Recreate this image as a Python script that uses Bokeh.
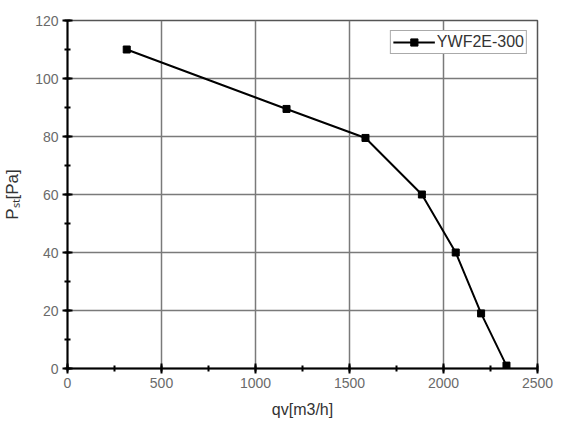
from bokeh.plotting import figure
from bokeh.models import Range1d, SingleIntervalTicker
from bokeh.embed import file_html
from bokeh.resources import INLINE

# fan curve
flow = [315, 1165, 1585, 1885, 2065, 2200, 2335]
pressure = [110, 89.5, 79.5, 60, 40, 19, 1]
series_name = "YWF2E-300"
x_title = "qv[m3/h]"
y_title = "P\u209b\u209c[Pa]"   # P with subscript "st"

FONT = "Liberation Sans"

p = figure(width=562, height=422, output_backend="svg", toolbar_location=None,
           x_range=Range1d(0, 2500), y_range=Range1d(0, 120),
           min_border_left=67, min_border_right=25,
           min_border_top=20, min_border_bottom=54)
p.background_fill_color = "white"
p.border_fill_color = "white"
p.outline_line_color = "#555555"
p.outline_line_width = 1.5

p.line(flow, pressure, line_color="black", line_width=2, legend_label=series_name)
p.scatter(flow, pressure, marker="square", size=7, fill_color="black",
          line_color="black", legend_label=series_name)

# axes
p.xaxis.ticker = SingleIntervalTicker(interval=500, num_minor_ticks=2)
p.yaxis.ticker = SingleIntervalTicker(interval=20, num_minor_ticks=2)
for ax in (p.xaxis, p.yaxis):
    ax.axis_line_color = "black"
    ax.axis_line_width = 2
    ax.major_tick_line_color = "black"
    ax.major_tick_line_width = 2
    ax.major_tick_in = 5
    ax.major_tick_out = 5
    ax.minor_tick_line_color = "black"
    ax.minor_tick_line_width = 2
    ax.minor_tick_in = 3
    ax.minor_tick_out = 3
    ax.major_label_text_font = FONT
    ax.major_label_text_font_size = "14px"
    ax.major_label_text_color = "#6a6a6a"
    ax.major_label_standoff = 4
    ax.axis_label_text_font = FONT
    ax.axis_label_text_font_size = "16px"
    ax.axis_label_text_font_style = "normal"
    ax.axis_label_text_color = "#333333"

p.xaxis.axis_label = x_title
p.xaxis.axis_label_standoff = 10
p.yaxis.axis_label = y_title
p.yaxis.axis_label_standoff = 10
p.yaxis.axis_label_text_font_size = "17px"

# grid
for g in (p.xgrid, p.ygrid):
    g.grid_line_color = "#7a7a7a"
    g.grid_line_width = 1.5

# legend
leg = p.legend[0]
leg.location = "top_right"
leg.margin = 10
leg.padding = 2
leg.spacing = 0
leg.label_height = 18
leg.glyph_height = 18
leg.glyph_width = 42
leg.label_standoff = 2
leg.label_text_font = FONT
leg.label_text_font_size = "16px"
leg.label_text_color = "#333333"
leg.border_line_color = "#555555"
leg.border_line_width = 1
leg.background_fill_color = "white"
leg.background_fill_alpha = 1

open("out.html", "w").write(file_html(p, INLINE))
